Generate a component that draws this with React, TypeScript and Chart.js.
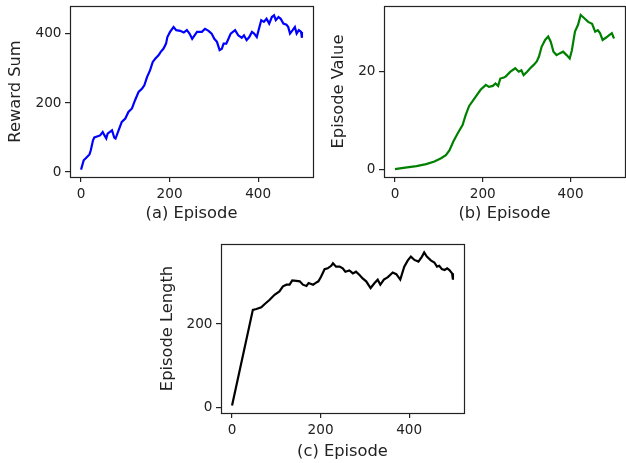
import React, { useEffect, useRef } from "react";
import { Chart, registerables } from "chart.js";

Chart.register(...registerables);

// (a) reward sum per episode
const rewardEpisodes = [
  0, 6, 13, 19, 22, 27, 30, 43, 49, 53, 57, 60, 70, 75, 78, 85, 92, 100, 107, 115,
  122, 130, 138, 143, 149, 156, 162, 168, 175, 180, 186, 192, 195, 201, 209, 215, 224,
  232, 239, 245, 251, 262, 273, 280, 288, 295, 301, 307, 313, 318, 322, 328, 333, 338,
  348, 355, 363, 368, 374, 380, 386, 391, 397, 401, 407, 413, 419, 425, 431, 436, 440,
  446, 451, 457, 464, 468, 472, 478, 483, 487, 492, 497, 499,
];
const rewardSums = [
  7, 34, 43, 51, 63, 92, 100, 106, 116, 106, 97, 111, 121, 100, 97, 121, 145, 155, 174, 184,
  208, 232, 242, 251, 275, 295, 319, 329, 338, 348, 357, 372, 391, 406, 420, 411, 409,
  404, 411, 401, 386, 406, 406, 415, 409, 401, 386, 377, 353, 357, 372, 372, 386, 401,
  411, 396, 389, 396, 382, 391, 406, 401, 391, 411, 440, 435, 444, 430, 449, 454, 440,
  449, 444, 430, 427, 420, 401, 411, 420, 401, 411, 406, 389,
];

// (b) episode value
const valueEpisodes = [
  0, 19, 49, 71, 90, 105, 116, 124, 133, 143, 154, 161, 169, 176, 184, 195, 207, 214,
  223, 229, 235, 240, 248, 252, 263, 274, 282, 288, 293, 301, 308, 316, 323, 328, 334,
  342, 349, 355, 361, 368, 376, 383, 391, 398, 403, 410, 417, 423, 432, 440, 449, 456,
  462, 467, 473, 481, 488, 494, 499,
];
const episodeValues = [
  0.06, 0.33, 0.68, 1.09, 1.63, 2.3, 2.9, 3.9, 5.7, 7.4, 9.1, 11.1, 13.0, 13.9, 14.9, 16.3,
  17.3, 16.9, 17.1, 17.6, 17.1, 18.6, 18.8, 19.0, 20.0, 20.7, 20.0, 20.3, 19.3, 20.0, 20.7,
  21.4, 22.1, 23.1, 25.1, 26.5, 27.2, 26.1, 24.1, 23.4, 23.8, 24.1, 23.4, 22.7, 24.4, 28.2,
  29.6, 31.6, 30.9, 30.2, 29.8, 28.2, 28.5, 27.9, 26.5, 27.0, 27.5, 27.9, 26.8,
];

// (c) episode length
const lengthEpisodes = [
  0, 47, 55, 66, 74, 85, 96, 107, 115, 123, 130, 136, 145, 153, 160, 168, 173, 183, 190,
  195, 201, 209, 216, 224, 228, 235, 243, 250, 256, 265, 273, 280, 288, 295, 303, 313,
  322, 329, 335, 343, 352, 363, 371, 380, 389, 397, 404, 412, 421, 429, 434, 440, 449,
  457, 463, 468, 474, 480, 486, 491, 497, 499,
];
const episodeLengths = [
  6, 234, 236, 240, 248, 258, 270, 278, 290, 294, 294, 304, 303, 302, 294, 291, 298, 294,
  299, 302, 313, 331, 333, 339, 345, 337, 337, 333, 325, 328, 321, 325, 317, 309, 302, 286,
  298, 306, 294, 306, 312, 323, 319, 306, 337, 352, 361, 353, 349, 361, 371, 361, 352,
  347, 337, 339, 331, 329, 333, 329, 321, 306,
];

const episodeTicks = [0, 200, 400];
const rewardTicks = [0, 200, 400];
const valueTicks = [0, 20];
const lengthTicks = [0, 200];

const FONT = "'DejaVu Sans', 'Liberation Sans', sans-serif";
const INK = "#222222";
const X_MIN = -24.95;
const X_MAX = 523.95;

type Area = { l: number; t: number; r: number; b: number };

type PanelProps = {
  left: number;
  top: number;
  width: number;
  height: number;
  area: Area;
  xs: number[];
  ys: number[];
  color: string;
  xTitle: string;
  yTitle: string;
  yMin: number;
  yMax: number;
  yTicks: number[];
  yTitlePad: number;
  xTitlePad: number;
};

// spines on all four sides of the plot area
const framePlugin = {
  id: "frame",
  afterDatasetsDraw(chart: any) {
    const { ctx, chartArea } = chart;
    ctx.save();
    ctx.strokeStyle = INK;
    ctx.lineWidth = 1.2;
    ctx.strokeRect(
      Math.round(chartArea.left) + 0.5,
      Math.round(chartArea.top) + 0.5,
      Math.round(chartArea.right - chartArea.left),
      Math.round(chartArea.bottom - chartArea.top)
    );
    ctx.restore();
  },
};

function Panel(p: PanelProps) {
  const ref = useRef<HTMLCanvasElement | null>(null);

  useEffect(() => {
    if (!ref.current) return;
    const chart = new Chart(ref.current, {
      type: "line",
      data: {
        datasets: [
          {
            data: p.xs.map((x, i) => ({ x, y: p.ys[i] })),
            borderColor: p.color,
            borderWidth: 2.2,
            pointRadius: 0,
            tension: 0,
            fill: false,
          },
        ],
      },
      options: {
        animation: false,
        responsive: false,
        devicePixelRatio: 1,
        events: [],
        layout: {
          padding: {
            left: 0,
            top: p.area.t - p.top,
            right: p.left + p.width - p.area.r,
            bottom: 0,
          },
        },
        plugins: {
          legend: { display: false },
          tooltip: { enabled: false },
        },
        scales: {
          x: {
            type: "linear",
            min: X_MIN,
            max: X_MAX,
            afterBuildTicks: (s: any) => {
              s.ticks = episodeTicks.map((value) => ({ value }));
            },
            afterFit: (s: any) => {
              s.height = p.top + p.height - p.area.b;
              s.paddingLeft = 0;
              s.paddingRight = 0;
            },
            grid: {
              drawOnChartArea: false,
              drawTicks: true,
              tickLength: 5,
              color: INK,
              lineWidth: 1.2,
            },
            border: { display: false },
            ticks: {
              color: INK,
              font: { family: FONT, size: 13.6 },
              padding: 4,
              maxRotation: 0,
              autoSkip: false,
            },
            title: {
              display: true,
              text: p.xTitle,
              color: INK,
              font: { family: FONT, size: 16.3 },
              padding: { top: 0, bottom: p.xTitlePad },
            },
          },
          y: {
            type: "linear",
            min: p.yMin,
            max: p.yMax,
            afterBuildTicks: (s: any) => {
              s.ticks = p.yTicks.map((value) => ({ value }));
            },
            afterFit: (s: any) => {
              s.width = p.area.l - p.left;
              s.paddingTop = 0;
              s.paddingBottom = 0;
            },
            grid: {
              drawOnChartArea: false,
              drawTicks: true,
              tickLength: 5,
              color: INK,
              lineWidth: 1.2,
            },
            border: { display: false },
            ticks: {
              color: INK,
              font: { family: FONT, size: 13.6 },
              padding: 3.5,
              autoSkip: false,
            },
            title: {
              display: true,
              text: p.yTitle,
              color: INK,
              font: { family: FONT, size: 16.3 },
              padding: { top: p.yTitlePad, bottom: 0 },
            },
          },
        },
      },
      plugins: [framePlugin],
    } as any);
    return () => chart.destroy();
  }, []);

  return (
    <canvas
      ref={ref}
      width={p.width}
      height={p.height}
      style={{
        position: "absolute",
        left: p.left,
        top: p.top,
        width: p.width,
        height: p.height,
      }}
    />
  );
}

export default function App() {
  return (
    <div
      style={{
        position: "fixed",
        left: 0,
        top: 0,
        width: 626,
        height: 463,
        background: "#ffffff",
        overflow: "hidden",
      }}
    >
      <Panel
        left={0}
        top={0}
        width={320}
        height={232}
        area={{ l: 70, t: 6, r: 313, b: 177 }}
        xs={rewardEpisodes}
        ys={rewardSums}
        color="#0000ff"
        xTitle="(a) Episode"
        yTitle="Reward Sum"
        yMin={-14.5}
        yMax={481}
        yTicks={rewardTicks}
        yTitlePad={5.7}
        xTitlePad={8.2}
      />
      <Panel
        left={320}
        top={0}
        width={306}
        height={232}
        area={{ l: 384, t: 6, r: 625, b: 177 }}
        xs={valueEpisodes}
        ys={episodeValues}
        color="#008000"
        xTitle="(b) Episode"
        yTitle="Episode Value"
        yMin={-1.55}
        yMax={33.45}
        yTicks={valueTicks}
        yTitlePad={9.2}
        xTitlePad={8.2}
      />
      <Panel
        left={150}
        top={236}
        width={320}
        height={227}
        area={{ l: 221, t: 244, r: 464, b: 413 }}
        xs={lengthEpisodes}
        ys={episodeLengths}
        color="#000000"
        xTitle="(c) Episode"
        yTitle="Episode Length"
        yMin={-12}
        yMax={391}
        yTicks={lengthTicks}
        yTitlePad={7.7}
        xTitlePad={1.2}
      />
    </div>
  );
}
